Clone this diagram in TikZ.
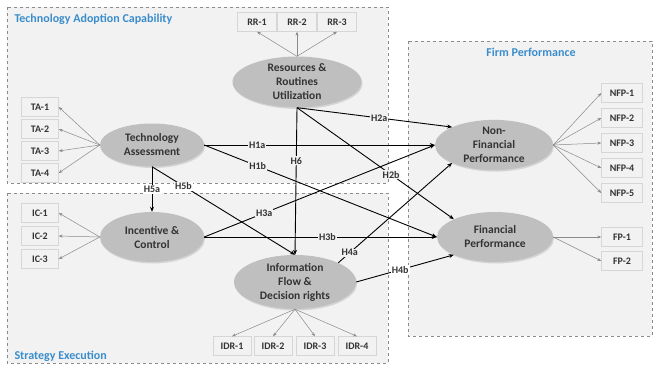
\documentclass[tikz,border=0pt]{standalone}
\usepackage{fontspec}
\setmainfont{Carlito}
\usetikzlibrary{arrows.meta, shapes.geometric, shadows}

\definecolor{panelgray}{HTML}{F2F2F2}
\definecolor{panelline}{HTML}{8C8C8C}
\definecolor{ellgray}{HTML}{BFBFBF}
\definecolor{boxgray}{HTML}{F2F2F2}
\definecolor{boxline}{HTML}{D6D6D6}
\definecolor{itemline}{HTML}{8A8A8A}
\definecolor{textgray}{HTML}{333333}
\definecolor{titleblue}{HTML}{3A8DCC}

\tikzset{
  panel/.style={draw=panelline, dashed, fill=panelgray, line width=0.6pt},
  construct/.style={ellipse, fill=ellgray, inner sep=0pt, align=center,
    font=\fontsize{11.5}{14}\selectfont\bfseries, text=textgray,
    drop shadow={shadow xshift=1pt, shadow yshift=-1.5pt, opacity=0.25}},
  item/.style={rectangle, fill=boxgray, draw=boxline, minimum height=19pt,
    inner sep=0pt, font=\fontsize{10}{11}\selectfont\bfseries, text=textgray},
  load/.style={draw=itemline, line width=0.5pt, -{Stealth[length=4pt,width=3pt]}},
  path/.style={draw=black, line width=0.9pt, -{Stealth[length=5pt,width=4pt]}},
  hyp/.style={font=\fontsize{10}{11}\selectfont\bfseries, text=textgray,
    fill=panelgray, inner sep=1pt},
  title/.style={font=\fontsize{12}{14}\selectfont\bfseries, text=titleblue}
}

\begin{document}
\begin{tikzpicture}[x=1pt, y=-1pt]
    \useasboundingbox (0,0) rectangle (654,365);

    % panels
    \draw[panel] (7,7) rectangle (388,183);
    \draw[panel] (7,193) rectangle (388,363);
    \draw[panel] (408,41) rectangle (652,336);
    \node[title, anchor=west] (tac) at (11,19) {Technology Adoption Capability};
    \node[title, anchor=west] (se) at (11,356) {Strategy Execution};
    \node[title] (fp) at (531,52) {Firm Performance};

    % constructs
    \node[construct, minimum width=129pt, minimum height=50pt] (rru) at (297,82) {Resources \&\\Routines\\Utilization};
    \node[construct, minimum width=104pt, minimum height=43pt] (tas) at (152,145) {Technology\\Assessment};
    \node[construct, minimum width=104pt, minimum height=50pt] (inc) at (152,237) {Incentive \&\\Control};
    \node[construct, minimum width=122pt, minimum height=54pt] (ifd) at (295,282) {Information\\Flow \&\\Decision rights};
    \node[construct, minimum width=118pt, minimum height=50pt] (nfp) at (494,145) {Non-\\Financial\\Performance};
    \node[construct, minimum width=116pt, minimum height=50pt] (fip) at (495,237) {Financial\\Performance};

    % indicators
    \node[item, minimum width=39pt] (rr1) at (257,22) {RR-1};
    \node[item, minimum width=39pt] (rr2) at (297,22) {RR-2};
    \node[item, minimum width=39pt] (rr3) at (337,22) {RR-3};

    \node[item, minimum width=37pt] (ta1) at (40,107) {TA-1};
    \node[item, minimum width=37pt] (ta2) at (40,129) {TA-2};
    \node[item, minimum width=37pt] (ta3) at (40,151) {TA-3};
    \node[item, minimum width=37pt] (ta4) at (40,173) {TA-4};

    \node[item, minimum width=37pt] (ic1) at (40,213) {IC-1};
    \node[item, minimum width=37pt] (ic2) at (40,236) {IC-2};
    \node[item, minimum width=37pt] (ic3) at (40,259) {IC-3};

    \node[item, minimum width=38pt] (idr1) at (232,346) {IDR-1};
    \node[item, minimum width=38pt] (idr2) at (273,346) {IDR-2};
    \node[item, minimum width=38pt] (idr3) at (315,346) {IDR-3};
    \node[item, minimum width=38pt] (idr4) at (357,346) {IDR-4};

    \node[item, minimum width=41pt] (nfp1) at (622,93) {NFP-1};
    \node[item, minimum width=41pt] (nfp2) at (622,118) {NFP-2};
    \node[item, minimum width=41pt] (nfp3) at (622,143) {NFP-3};
    \node[item, minimum width=41pt] (nfp4) at (622,168) {NFP-4};
    \node[item, minimum width=41pt] (nfp5) at (622,193) {NFP-5};

    \node[item, minimum width=41pt] (fp1) at (622,237) {FP-1};
    \node[item, minimum width=41pt] (fp2) at (622,261) {FP-2};

    % loadings
    \draw[load] (rru.north) -- (rr1.south);
    \draw[load] (rru.north) -- (rr2.south);
    \draw[load] (rru.north) -- (rr3.south);
    \draw[load] (tas.west) -- (ta1.east);
    \draw[load] (tas.west) -- (ta2.east);
    \draw[load] (tas.west) -- (ta3.east);
    \draw[load] (tas.west) -- (ta4.east);
    \draw[load] (inc.west) -- (ic1.east);
    \draw[load] (inc.west) -- (ic2.east);
    \draw[load] (inc.west) -- (ic3.east);
    \draw[load] (ifd.south) -- (idr1.north);
    \draw[load] (ifd.south) -- (idr2.north);
    \draw[load] (ifd.south) -- (idr3.north);
    \draw[load] (ifd.south) -- (idr4.north);
    \draw[load] (nfp.east) -- (nfp1.west);
    \draw[load] (nfp.east) -- (nfp2.west);
    \draw[load] (nfp.east) -- (nfp3.west);
    \draw[load] (nfp.east) -- (nfp4.west);
    \draw[load] (nfp.east) -- (nfp5.west);
    \draw[load] (fip.east) -- (fp1.west);
    \draw[load] (fip.east) -- (fp2.west);

    % hypotheses
    \draw[path] (tas.east) -- (nfp.west) node[hyp, pos=0.23] {H1a};
    \draw[path] (tas.east) -- (fip.west) node[hyp, pos=0.23] {H1b};
    \draw[path] (rru.south) -- (nfp.north west) node[hyp, pos=0.53] {H2a};
    \draw[path] (rru.south) -- (fip.north west) node[hyp, pos=0.6] {H2b};
    \draw[path] (rru.south) -- (ifd.north) node[hyp, pos=0.36] {H6};
    \draw[path] (tas.south) -- (inc.north) node[hyp, fill=white, pos=0.5] {H5a};
    \draw[path] (tas.south) -- (ifd.north) node[hyp, fill=white, pos=0.22] {H5b};
    \draw[path] (inc.east) -- (nfp.west) node[hyp, pos=0.26] {H3a};
    \draw[path] (inc.east) -- (fip.west) node[hyp, pos=0.53] {H3b};
    \draw[path] (ifd.north east) -- (nfp.south west) node[hyp, pos=0.1] {H4a};
    \draw[path] (ifd.east) -- (fip.south west) node[hyp, fill=white, pos=0.45] {H4b};

\end{tikzpicture}
\end{document}
